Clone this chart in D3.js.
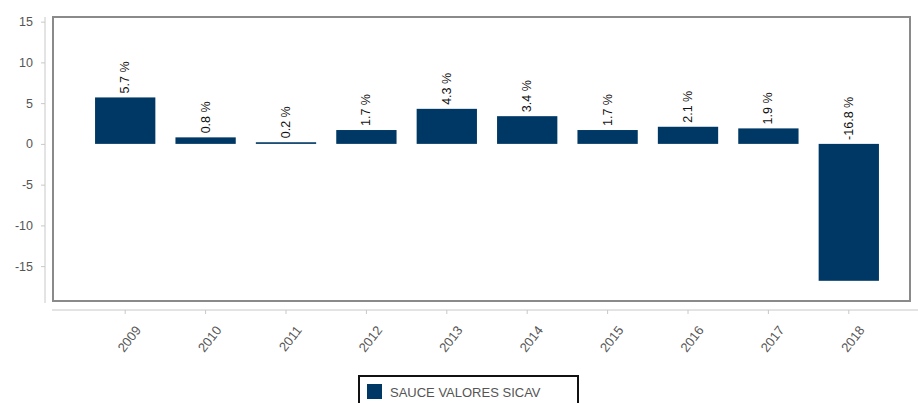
<!DOCTYPE html>
<html>
<head>
<meta charset="utf-8">
<script src="https://cdn.jsdelivr.net/npm/d3@7/dist/d3.min.js"></script>
<style>
  html, body { margin: 0; padding: 0; background: #fff; }
  svg { display: block; font-family: "Liberation Sans", Arial, sans-serif; }
</style>
</head>
<body>
<svg id="chart" width="918" height="403"></svg>
<script>
// Yearly returns, SAUCE VALORES SICAV
const years = ['2009', '2010', '2011', '2012', '2013', '2014', '2015', '2016', '2017', '2018'];
const returns = [5.7, 0.8, 0.2, 1.7, 4.3, 3.4, 1.7, 2.1, 1.9, -16.8];
const yTicks = [15, 10, 5, 0, -5, -10, -15];
const seriesName = 'SAUCE VALORES SICAV';

const W = 918, H = 403;
const BAR = '#003865';
const svg = d3.select('#chart');

const x = d3.scaleBand().domain(years).range([85, 889]).paddingInner(0.25).paddingOuter(0.125);
const y = d3.scaleLinear().domain([-19.4, 15.2]).range([302, 20]);

// plot frame
svg.append('rect')
  .attr('x', 53).attr('y', 17)
  .attr('width', 857).attr('height', 284)
  .attr('fill', 'none')
  .attr('stroke', '#8a8a8a')
  .attr('stroke-width', 2);

// y axis
const yAxis = svg.append('g')
  .attr('transform', 'translate(45,0)')
  .call(d3.axisLeft(y).tickValues(yTicks).tickFormat(d => String(d))
    .tickSize(4).tickPadding(8).tickSizeOuter(0));
yAxis.select('.domain').attr('stroke', '#c8c8c8').attr('d', `M0,17V303`);
yAxis.selectAll('.tick line').attr('stroke', '#c8c8c8');
yAxis.selectAll('.tick text').attr('fill', '#555').attr('font-size', 12.5);

// x axis
const xAxis = svg.append('g')
  .attr('transform', 'translate(0,310)')
  .call(d3.axisBottom(x).tickSize(4).tickSizeOuter(0));
xAxis.select('.domain').attr('stroke', '#c8c8c8').attr('d', `M52,0H${W}`);
xAxis.selectAll('.tick line').attr('stroke', '#c8c8c8');
xAxis.selectAll('.tick text')
  .attr('fill', '#555')
  .attr('font-size', 13)
  .attr('text-anchor', 'end')
  .attr('dy', 0)
  .attr('transform', 'translate(11,16) rotate(-52)');

// bars
svg.append('g').selectAll('rect')
  .data(returns)
  .join('rect')
  .attr('x', (d, i) => x(years[i]))
  .attr('width', x.bandwidth())
  .attr('y', d => y(Math.max(0, d)))
  .attr('height', d => Math.max(1.5, Math.abs(y(d) - y(0))))
  .attr('fill', BAR);

// value labels
svg.append('g').selectAll('text')
  .data(returns)
  .join('text')
  .attr('transform', (d, i) => {
    const cx = x(years[i]) + x.bandwidth() / 2 + 4;
    const cy = y(Math.max(0, d)) - 4;
    return `translate(${cx},${cy}) rotate(-90)`;
  })
  .attr('font-size', 12.5)
  .attr('fill', '#111')
  .text(d => `${d.toFixed(1)} %`);

// legend
const lg = svg.append('g').attr('transform', 'translate(359,376)');
lg.append('rect')
  .attr('width', 219).attr('height', 32)
  .attr('fill', '#fff')
  .attr('stroke', '#111')
  .attr('stroke-width', 2);
lg.append('rect')
  .attr('x', 8).attr('y', 8)
  .attr('width', 15).attr('height', 15)
  .attr('fill', BAR);
lg.append('text')
  .attr('x', 31).attr('y', 21)
  .attr('font-size', 13)
  .attr('fill', '#555')
  .text(seriesName);
</script>
</body>
</html>
